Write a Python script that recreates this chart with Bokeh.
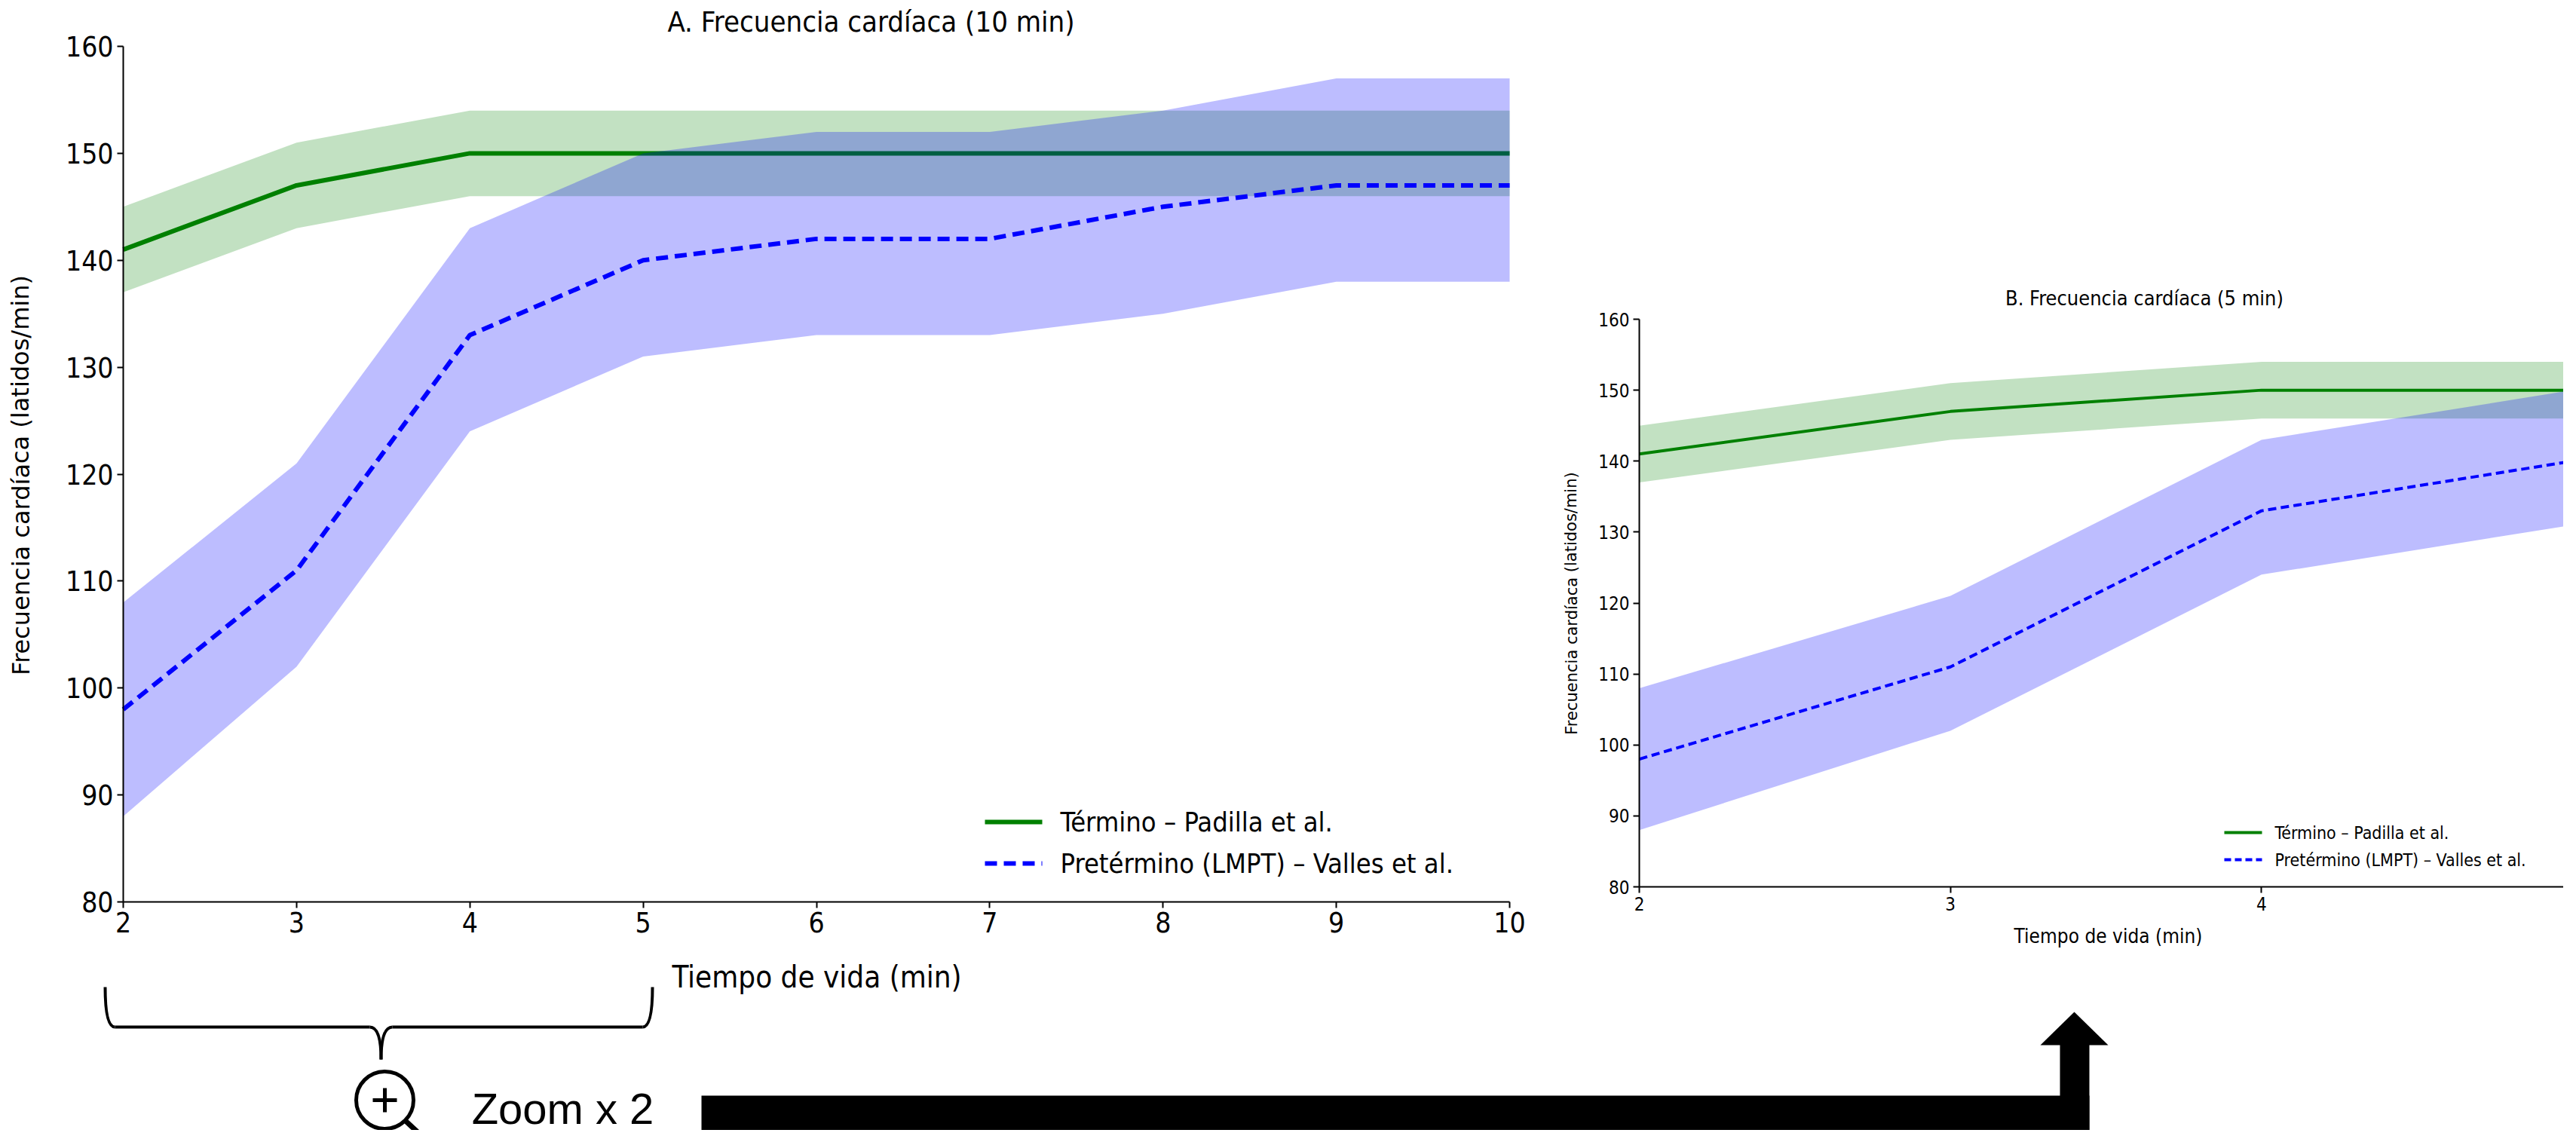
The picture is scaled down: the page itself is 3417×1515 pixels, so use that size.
from bokeh.plotting import figure
from bokeh.models import Range1d, LinearAxis, FixedTicker
from bokeh.embed import file_html
from bokeh.resources import INLINE
from bokeh.core.properties import value

# ---- data ----
t_term = [2, 3, 4, 5, 6, 7, 8, 9, 10]
term_mean = [141, 147, 150, 150, 150, 150, 150, 150, 150]
term_lo = [137, 143, 146, 146, 146, 146, 146, 146, 146]
term_hi = [145, 151, 154, 154, 154, 154, 154, 154, 154]
t_pre = [2, 3, 4, 5, 6, 7, 8, 9, 10]
pre_mean = [98, 111, 133, 140, 142, 142, 145, 147, 147]
pre_lo = [88, 102, 124, 131, 133, 133, 135, 138, 138]
pre_hi = [108, 121, 143, 150, 152, 152, 154, 157, 157]
zoom_n = 4  # points 2..5 for panel B
y_ticks = [80, 90, 100, 110, 120, 130, 140, 150, 160]
xa_ticks = [2, 3, 4, 5, 6, 7, 8, 9, 10]
xb_ticks = [2, 3, 4]
lab_term = "Término – Padilla et al."
lab_pre = "Pretérmino (LMPT) – Valles et al."

W, H = 3400, 1499
OFF = 0
NARROW = "Liberation Sans Narrow, DejaVu Sans Condensed, sans-serif"
DJ = "DejaVu Sans"

def rng(v0, p0, v1, p1, pa, pb):
    s = (p1 - p0) / (v1 - v0)
    return Range1d(start=v0 + (pa - p0) / s, end=v0 + (pb - p0) / s)

p = figure(width=W, height=H, output_backend="svg", toolbar_location=None,
           x_axis_type=None, y_axis_type=None, min_border=0,
           x_range=Range1d(OFF, OFF + W), y_range=Range1d(OFF + H, OFF))
p.outline_line_color = None
p.grid.visible = False
p.background_fill_color = "white"

p.extra_x_ranges = {"xa": rng(2, 163, 10, 2002, OFF, OFF + W),
                    "xb": rng(2, 2174, 5, 3412, OFF, OFF + W)}
p.extra_y_ranges = {"ya": rng(160, 61, 80, 1196, OFF + H, OFF),
                    "yb": rng(160, 423, 80, 1176, OFF + H, OFF)}

def panel(xr, yr, n, xt, lw, dash, tick_fs, xend):
    k = dict(x_range_name=xr, y_range_name=yr)
    p.varea(x=t_term[:n], y1=term_lo[:n], y2=term_hi[:n], fill_color="green", fill_alpha=0.24, **k)
    p.line(t_term[:n], term_mean[:n], line_color="green", line_width=lw, **k)
    p.varea(x=t_pre[:n], y1=pre_lo[:n], y2=pre_hi[:n], fill_color="blue", fill_alpha=0.26, **k)
    p.line(t_pre[:n], pre_mean[:n], line_color="blue", line_width=lw, line_dash=dash, **k)
    ax = LinearAxis(fixed_location=80, bounds=(2, xend), ticker=FixedTicker(ticks=xt), **k)
    ay = LinearAxis(fixed_location=2, bounds=(80, 160), ticker=FixedTicker(ticks=y_ticks), **k)
    for a in (ax, ay):
        a.major_label_text_font = NARROW
        a.major_label_text_font_size = tick_fs
        a.major_label_text_color = "black"
        a.axis_line_color = "black"
        a.axis_line_width = 2
        a.major_tick_line_width = 2
        a.major_tick_out = 8
        a.major_tick_in = 0
        a.minor_tick_out = 0
        a.minor_tick_in = 0
    p.add_layout(ax, "below")
    p.add_layout(ay, "left")

panel("xa", "ya", len(t_term), xa_ticks, 6, "16 9", "37px", 10)
panel("xb", "yb", zoom_n, xb_ticks, 4, "11 6", "24px", 5)

def txt(x, y, s, fs, font=NARROW, align="center", angle=0):
    p.text(x=[x], y=[y], text=[s], text_font=value(font), text_font_size=fs,
           text_align=align, text_baseline="middle", angle=angle, text_color="black")

txt(1155, 28, "A. Frecuencia cardíaca (10 min)", "38px")
txt(1083, 1295, "Tiempo de vida (min)", "40px")
txt(27, 630, "Frecuencia cardíaca (latidos/min)", "32px", font=DJ, angle=1.5708)
txt(2844, 395, "B. Frecuencia cardíaca (5 min)", "27px")
txt(2796, 1241, "Tiempo de vida (min)", "26px")
txt(2084, 800, "Frecuencia cardíaca (latidos/min)", "21px", font=DJ, angle=1.5708)

# legends
p.line([1306, 1382], [1090, 1090], line_color="green", line_width=6)
p.line([1306, 1382], [1145, 1145], line_color="blue", line_width=6, line_dash="16 9")
txt(1406, 1090, lab_term, "36px", align="left")
txt(1406, 1145, lab_pre, "36px", align="left")
p.line([2950, 3000], [1104, 1104], line_color="green", line_width=4)
p.line([2950, 3000], [1140, 1140], line_color="blue", line_width=4, line_dash="9 5")
txt(3017, 1104, lab_term, "23px", align="left")
txt(3017, 1140, lab_pre, "23px", align="left")

# brace
bk = dict(line_color="black", line_width=4)
p.quadratic(x0=[139], y0=[1309], x1=[152], y1=[1362], cx=[139], cy=[1362], **bk)
p.line([152, 490], [1362, 1362], **bk)
p.quadratic(x0=[490], y0=[1362], x1=[505], y1=[1405], cx=[505], cy=[1362], **bk)
p.quadratic(x0=[520], y0=[1362], x1=[505], y1=[1405], cx=[505], cy=[1362], **bk)
p.line([520, 852], [1362, 1362], **bk)
p.quadratic(x0=[852], y0=[1362], x1=[865], y1=[1309], cx=[865], cy=[1362], **bk)

# magnifier
p.circle(x=[510], y=[1459], radius=38, fill_color=None, line_color="black", line_width=5)
p.line([538, 566], [1487, 1513], line_color="black", line_width=7)
p.line([494, 526], [1459, 1459], line_color="black", line_width=5)
p.line([510, 510], [1443, 1475], line_color="black", line_width=5)
txt(746, 1470, "Zoom x 2", "58px", font="Liberation Sans Narrow, sans-serif")

# arrow
p.quad(left=[930], right=[2771], top=[1453], bottom=[1499], fill_color="black", line_color=None)
p.quad(left=[2732], right=[2771], top=[1384], bottom=[1499], fill_color="black", line_color=None)
p.patch(x=[2706, 2796, 2751], y=[1386, 1386, 1342], fill_color="black", line_color=None)

open("out.html", "w").write(file_html(p, INLINE))
